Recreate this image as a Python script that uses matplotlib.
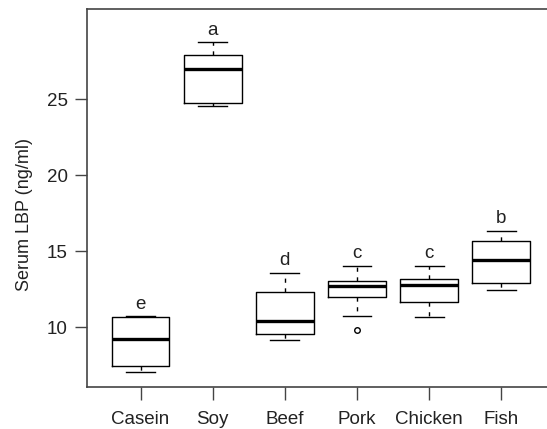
import numpy as np
import matplotlib
matplotlib.use('Agg')
import matplotlib.pyplot as plt

plt.rcParams['font.family'] = ['Liberation Sans', 'DejaVu Sans']

# diet groups and box statistics (ng/ml)
groups = ['Casein', 'Soy', 'Beef', 'Pork', 'Chicken', 'Fish']
mins = [7.04, 24.54, 9.18, 10.74, 10.66, 12.43]
q1s = [7.47, 24.74, 9.54, 12.01, 11.68, 12.93]
meds = [9.23, 26.97, 10.41, 12.72, 12.80, 14.43]
q3s = [10.68, 27.91, 12.34, 13.05, 13.20, 15.66]
maxs = [10.72, 28.75, 13.59, 14.03, 14.03, 16.34]
outliers = [[], [], [], [9.84], [], []]
letters = ['e', 'a', 'd', 'c', 'c', 'b']

stats = []
for i in range(len(groups)):
    stats.append(dict(label=groups[i], whislo=mins[i], q1=q1s[i], med=meds[i],
                      q3=q3s[i], whishi=maxs[i], fliers=outliers[i]))

fig = plt.figure(figsize=(5.47, 4.29), dpi=100)
ax = fig.add_axes([0.1594, 0.0979, 0.8547, 0.8804])
pos = np.arange(1, len(groups) + 1)
ax.bxp(stats, positions=pos, widths=0.8, capwidths=0.4,
       boxprops=dict(color='black', lw=1.0),
       medianprops=dict(color='black', lw=2.4, solid_capstyle='butt'),
       whiskerprops=dict(color='black', lw=1.0, linestyle=(0, (3, 4))),
       capprops=dict(color='black', lw=1.0),
       flierprops=dict(marker='o', markersize=4, markerfacecolor='none',
                       markeredgecolor='black', markeredgewidth=1.0))

for i in range(len(groups)):
    ax.text(pos[i], maxs[i] + 0.8, letters[i], ha='center', va='center',
            fontsize=13.5, color='#222222')

ax.set_xlim(0.26, 6.74)
ax.set_ylim(6.08, 30.92)
ax.set_yticks([10, 15, 20, 25])
ax.set_xticks(pos)
ax.set_xticklabels(groups)
ax.tick_params(axis='both', direction='out', length=9, width=1.0,
               color='#444444', labelcolor='#222222', labelsize=13.5)
ax.tick_params(axis='x', pad=8)
ax.tick_params(axis='y', pad=5)
ax.set_ylabel('Serum LBP (ng/ml)', fontsize=13, color='#222222')
ax.yaxis.set_label_coords(-0.115, 0.458)
for s in ['left', 'top', 'bottom']:
    ax.spines[s].set_color('#444444')
    ax.spines[s].set_linewidth(1.2)
ax.spines['right'].set_visible(False)

fig.savefig('out.png', dpi=100)
